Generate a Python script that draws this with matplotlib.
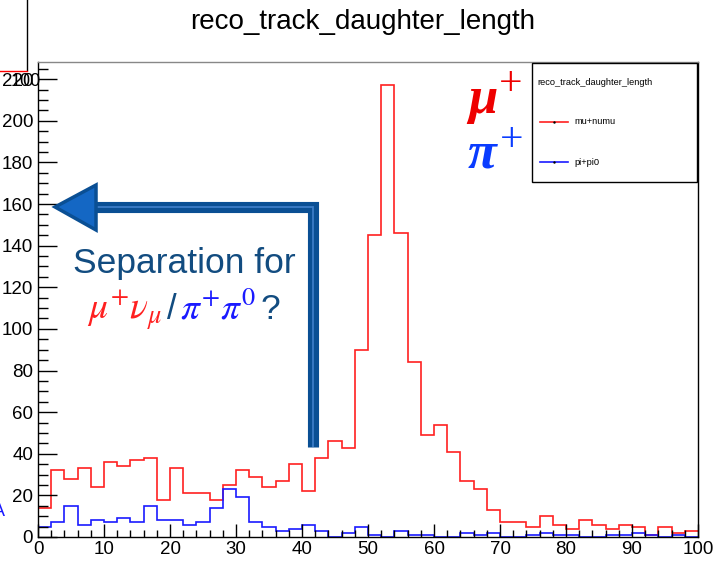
import numpy as np
import matplotlib
matplotlib.use("Agg")
import matplotlib.pyplot as plt
from matplotlib.lines import Line2D
from matplotlib.patches import Polygon, Rectangle
from matplotlib.ticker import MultipleLocator
from matplotlib.offsetbox import TextArea, HPacker, AnnotationBbox

plt.rcParams['font.family'] = ['Liberation Sans', 'DejaVu Sans']
plt.rcParams['mathtext.fontset'] = 'stix'

# histogram: 50 bins of width 2 from 0 to 100
bin_edges = np.arange(0, 101, 2)
mu_numu = [14, 32, 28, 33, 24, 36, 34, 37, 38, 18,
           33, 21, 21, 18, 25, 32, 29, 24, 27, 35,
           22, 38, 46, 43, 90, 145, 217, 146, 84, 49,
           54, 41, 27, 23, 13, 7, 7, 5, 10, 6,
           4, 8, 6, 4, 6, 5, 1, 5, 2, 3]
pi_pi0 = [5, 7, 15, 6, 8, 7, 9, 7, 15, 8,
          8, 6, 7, 14, 23, 19, 7, 5, 3, 4,
          6, 3, 0, 2, 5, 1, 0, 3, 1, 1,
          0, 0, 2, 1, 2, 0, 0, 1, 2, 1,
          1, 0, 0, 1, 1, 2, 1, 0, 1, 0]
series_labels = ["mu+numu", "pi+pi0"]
hist_title = "reco_track_daughter_length"

RED = "#ff2020"
BLUE = "#1a1aff"
NAVY = "#124c80"

fig = plt.figure(figsize=(7.13, 5.61), dpi=100)
ax = fig.add_axes([0.0533, 0.0428, 0.9257, 0.8458])

ax.stairs(mu_numu, bin_edges, baseline=None, color=RED, lw=1.2)
ax.stairs(pi_pi0, bin_edges, baseline=None, color=BLUE, lw=1.2)

ax.set_xlim(0, 100)
ax.set_ylim(0, 228)
ax.xaxis.set_major_locator(MultipleLocator(10))
ax.xaxis.set_minor_locator(MultipleLocator(2))
ax.yaxis.set_major_locator(MultipleLocator(20))
ax.yaxis.set_minor_locator(MultipleLocator(5))
ax.tick_params(axis='x', which='major', direction='in', length=9.4, width=1,
               labelsize=13.5, pad=3, top=False)
ax.tick_params(axis='x', which='minor', direction='in', length=5, width=1, top=False)
ax.tick_params(axis='y', which='major', direction='in', length=13.7, width=1,
               labelsize=13.5, pad=3.5, right=False)
ax.tick_params(axis='y', which='minor', direction='in', length=7.2, width=1, right=False)
for s in ax.spines.values():
    s.set_linewidth(1)
ax.spines['top'].set_color('#888888')

fig.text(0.508, 0.961, hist_title, ha='center', va='center', fontsize=20)

# ROOT style legend box
ax.add_patch(Rectangle((0.7485, 0.748), 0.25, 0.251, transform=ax.transAxes,
                       facecolor='white', edgecolor='black', lw=1, zorder=5))
ax.text(0.756, 0.957, hist_title, transform=ax.transAxes, fontsize=6.7,
        va='center', ha='left', zorder=6)
for yy, col, lab in [(0.875, RED, series_labels[0]), (0.79, BLUE, series_labels[1])]:
    ax.add_line(Line2D([0.7606, 0.803], [yy, yy], transform=ax.transAxes,
                       color=col, lw=1.2, zorder=6))
    ax.plot([0.782], [yy], transform=ax.transAxes, marker='.', ms=1.5,
            color='black', zorder=7)
    ax.text(0.812, yy, lab, transform=ax.transAxes, fontsize=6.7,
            va='center', ha='left', zorder=6)

# big particle labels
serif = dict(family='Liberation Serif', weight='bold', style='italic')
ax.text(0.6515, 0.8936, "\u03bc", transform=ax.transAxes, color='#ee0000',
        fontsize=38, va='baseline', ha='left', **serif)
ax.text(0.7167, 0.9526, "+", transform=ax.transAxes, color='#ee0000',
        fontsize=30, va='center', ha='center', family='Liberation Serif')
ax.text(0.6515, 0.7777, "\u03c0", transform=ax.transAxes, color='#0a3cff',
        fontsize=38, va='baseline', ha='left', **serif)
ax.text(0.718, 0.8346, "+", transform=ax.transAxes, color='#0a3cff',
        fontsize=30, va='center', ha='center', family='Liberation Serif')

# arrow annotation
ax.add_line(Line2D([0.4159, 0.4159, 0.085], [0.1897, 0.6955, 0.6955],
                   transform=ax.transAxes, color='#0a4f94', lw=8,
                   solid_joinstyle='miter', solid_capstyle='butt', zorder=4))
ax.add_line(Line2D([0.4159, 0.4159, 0.085], [0.1897, 0.6955, 0.6955],
                   transform=ax.transAxes, color='#3b7cc6', lw=1.3,
                   solid_joinstyle='miter', solid_capstyle='butt', zorder=4))
ax.add_patch(Polygon([[0.0258, 0.6955], [0.0879, 0.7418], [0.0879, 0.647]],
                     closed=True, transform=ax.transAxes, facecolor='#1467c4',
                     edgecolor='#0a4f94', lw=2.5, joinstyle='miter', zorder=4))

ax.text(0.2212, 0.5774, "Separation for", transform=ax.transAxes, color=NAVY,
        fontsize=25.5, ha='center', va='center')
parts = [TextArea(r"$\mu^{+}\nu_{\mu}$", textprops=dict(color=RED, fontsize=27)),
         TextArea("/", textprops=dict(color=NAVY, fontsize=25)),
         TextArea(r"$\pi^{+}\pi^{0}$", textprops=dict(color=BLUE, fontsize=27)),
         TextArea("?", textprops=dict(color=NAVY, fontsize=25.5))]
row = HPacker(children=parts, align='baseline', pad=0, sep=3)
ax.add_artist(AnnotationBbox(row, (0.2212, 0.478), xycoords='axes fraction',
                             frameon=False, box_alignment=(0.5, 0.5)))

# pieces of a neighbouring panel seen at the left edge
fig.add_artist(Line2D([27 / 713, 27 / 713], [1, 1 - 70 / 561], color='black', lw=1))
fig.add_artist(Line2D([0, 27 / 713], [1 - 70.5 / 561] * 2, color='red', lw=1))
fig.text(26 / 713, 1 - 81 / 561, "100", ha='center', va='center', fontsize=13)
fig.text(5 / 713, 1 - 511 / 561, "A", ha='right', va='center', fontsize=13,
         color=BLUE)

fig.savefig("out.png", dpi=100)
